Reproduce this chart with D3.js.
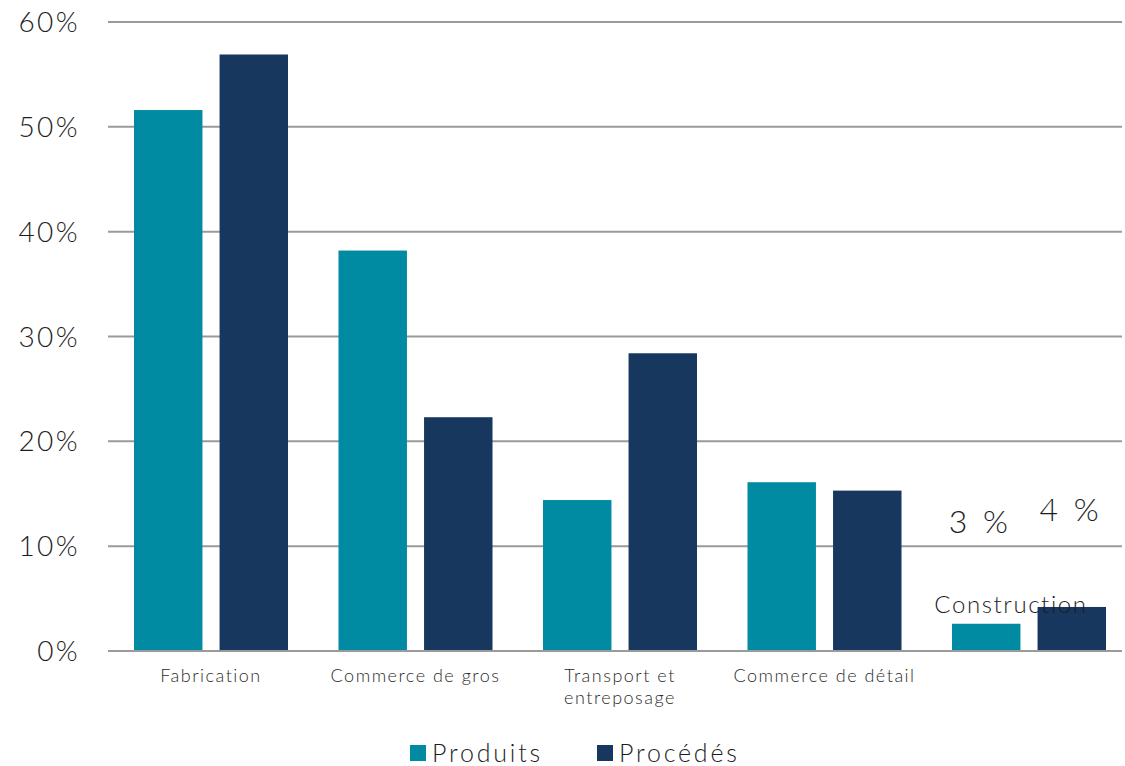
<!DOCTYPE html>
<html>
<head>
<meta charset="utf-8">
<script src="https://cdn.jsdelivr.net/npm/d3@7"></script>
<style>
  body { margin: 0; background: #fff; }
  svg { font-family: "Lato", "Open Sans", sans-serif; font-weight: 300; }
</style>
</head>
<body>
<svg id="chart"></svg>
<script>
const categories = ["Fabrication", "Commerce de gros", "Transport et entreposage", "Commerce de détail", "Construction"];
const seriesNames = ["Produits", "Procédés"];
const produits = [51.6, 38.2, 14.4, 16.1, 2.6];
const procedes = [56.9, 22.3, 28.4, 15.3, 4.2];
const yTicks = [0, 10, 20, 30, 40, 50, 60];
const extraLabels = ["3 %", "4 %"];

const width = 1125, height = 766;
const margin = { left: 108, right: 3, top: 22, bottom: 115 };
const palette = ["#008ba3", "#17375e"];

const svg = d3.select("#chart").attr("width", width).attr("height", height);

// categories step a bit wider than the grid, last group ends near the right edge
const x = d3.scaleBand().domain(categories).range([margin.left, margin.left + 5 * 204.5]);
const xInner = d3.scaleBand().domain(seriesNames).range([26, 180]).paddingInner(0.2);
const y = d3.scaleLinear().domain([0, 60]).range([height - margin.bottom, margin.top]);

// grid lines
svg.append("g")
  .selectAll("line")
  .data(yTicks)
  .join("line")
  .attr("x1", margin.left)
  .attr("x2", width - margin.right)
  .attr("y1", d => y(d))
  .attr("y2", d => y(d))
  .attr("stroke", "#9a9a9a")
  .attr("stroke-width", 2);

// y labels
svg.append("g")
  .selectAll("text")
  .data(yTicks)
  .join("text")
  .attr("x", 80)
  .attr("y", d => y(d))
  .attr("dy", "0.36em")
  .attr("text-anchor", "end")
  .attr("fill", "#1e1e1e")
  .style("font-size", "28px")
  .style("letter-spacing", "2.4px")
  .text(d => d + "%");

// bars
const rows = categories.map((c, i) => ({ cat: c, values: [produits[i], procedes[i]] }));
svg.append("g")
  .selectAll("g")
  .data(rows)
  .join("g")
  .attr("transform", d => `translate(${x(d.cat)},0)`)
  .selectAll("rect")
  .data(d => d.values.map((v, j) => ({ key: seriesNames[j], v, j })))
  .join("rect")
  .attr("x", d => xInner(d.key))
  .attr("width", xInner.bandwidth())
  .attr("y", d => y(d.v))
  .attr("height", d => y(0) - y(d.v))
  .attr("fill", d => palette[d.j]);

// baseline redraw on top
svg.append("line")
  .attr("x1", margin.left).attr("x2", width - margin.right)
  .attr("y1", y(0)).attr("y2", y(0))
  .attr("stroke", "#9a9a9a").attr("stroke-width", 2);

// x labels
const xLabelLines = {
  "Transport et entreposage": ["Transport et", "entreposage"]
};
categories.slice(0, 4).forEach(c => {
  const lines = xLabelLines[c] || [c];
  const cx = x(c) + 103;
  const t = svg.append("text")
    .attr("x", cx)
    .attr("y", 682)
    .attr("text-anchor", "middle")
    .attr("fill", "#2b2b2b")
    .style("font-size", "18px")
    .style("letter-spacing", "1.5px");
  lines.forEach((l, i) => t.append("tspan").attr("x", cx).attr("dy", i ? 22 : 0).text(l));
});

// Construction label inside the plot
const lastCat = categories[4];
svg.append("text")
  .attr("x", x(lastCat) + 85)
  .attr("y", 613)
  .attr("text-anchor", "middle")
  .attr("fill", "#1e1e1e")
  .style("font-size", "24px")
  .style("letter-spacing", "1.6px")
  .text(lastCat);

// free percentage labels above construction bars
svg.append("text")
  .attr("x", x(lastCat) + xInner(seriesNames[0]) + xInner.bandwidth() / 2 - 6)
  .attr("y", 533)
  .attr("text-anchor", "middle")
  .attr("fill", "#1e1e1e")
  .style("font-size", "32px")
  .style("letter-spacing", "3.5px")
  .text(extraLabels[0]);
svg.append("text")
  .attr("x", x(lastCat) + xInner(seriesNames[1]) + xInner.bandwidth() / 2 - 1)
  .attr("y", 521)
  .attr("text-anchor", "middle")
  .attr("fill", "#1e1e1e")
  .style("font-size", "32px")
  .style("letter-spacing", "3.5px")
  .text(extraLabels[1]);

// legend
const legendX = [410, 597];
const legend = svg.append("g")
  .selectAll("g")
  .data(seriesNames)
  .join("g")
  .attr("transform", (d, i) => `translate(${legendX[i]},745)`);
legend.append("rect").attr("width", 16).attr("height", 16).attr("fill", (d, i) => palette[i]);
legend.append("text")
  .attr("x", 22)
  .attr("y", 8)
  .attr("dy", "0.36em")
  .attr("fill", "#1e1e1e")
  .style("font-size", "25px")
  .style("letter-spacing", "2.8px")
  .text(d => d);
</script>
</body>
</html>
